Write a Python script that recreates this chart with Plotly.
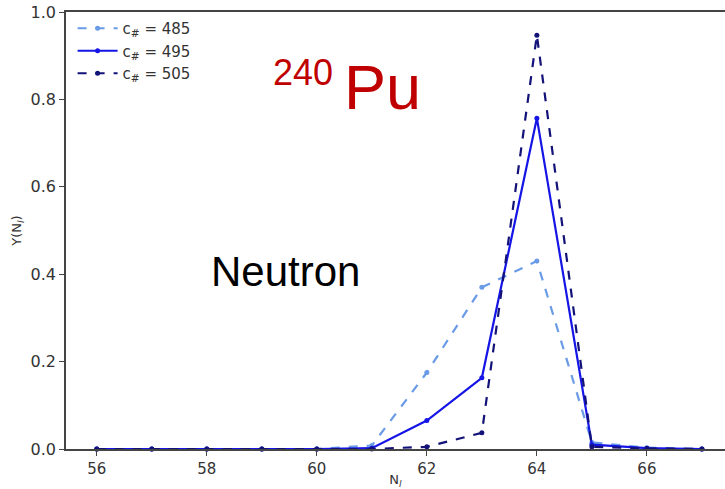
import plotly.graph_objects as go

N = [56, 57, 58, 59, 60, 61, 62, 63, 64, 65, 66, 67]
y485 = [0, 0, 0, 0, 0, 0.008, 0.175, 0.37, 0.43, 0.015, 0.003, 0.0]
y495 = [0, 0, 0, 0, 0, 0.002, 0.065, 0.163, 0.757, 0.010, 0.002, 0.0]
y505 = [0, 0, 0, 0, 0, 0.0, 0.005, 0.037, 0.947, 0.005, 0.001, 0.0]
names = ["c<sub>#</sub> = 485", "c<sub>#</sub> = 495", "c<sub>#</sub> = 505"]
colors = ["#6a9be6", "#1515e6", "#121278"]
dashes = ["dash", "solid", "dash"]

fig = go.Figure()
for ys, nm, c, d in zip([y485, y495, y505], names, colors, dashes):
    fig.add_trace(go.Scatter(
        x=N, y=ys, name=nm, mode="lines+markers",
        line=dict(color=c, width=2.2, dash=d),
        marker=dict(color=c, size=5),
        cliponaxis=False,
    ))

xtickfont = dict(family="DejaVu Sans", size=15, color="#333333")
ytickfont = dict(family="DejaVu Sans", size=16, color="#333333")
fig.update_layout(
    width=725, height=489,
    margin=dict(l=66, r=0, t=12, b=40),
    paper_bgcolor="white", plot_bgcolor="white",
    font=dict(family="DejaVu Sans", color="#333333"),
    showlegend=True,
    legend=dict(x=0.01, y=1.0, xanchor="left", yanchor="top",
                font=dict(family="DejaVu Sans", size=15, color="#333333"),
                bgcolor="rgba(255,255,255,0)", tracegroupgap=2, itemwidth=40),
    xaxis=dict(range=[55.44, 67.42], tickvals=[56, 58, 60, 62, 64, 66],
               automargin=False,
               showgrid=False, zeroline=False, showline=True, linecolor="#444444",
               linewidth=1.5, mirror=True, ticks="outside", ticklen=5,
               tickcolor="#444444", tickfont=xtickfont,
               title=dict(text="N<sub><i>l</i></sub>", font=dict(family="DejaVu Sans", size=13, color="#333333"), standoff=4)),
    yaxis=dict(range=[0, 1.0], tickvals=[0, 0.2, 0.4, 0.6, 0.8, 1.0],
               ticktext=["0.0", "0.2", "0.4", "0.6", "0.8", "1.0"],
               automargin=False,
               showgrid=False, zeroline=False, showline=True, linecolor="#444444",
               linewidth=1.5, ticks="outside", ticklen=5, tickcolor="#444444",
               tickfont=ytickfont,
               title=dict(text="Y(N<sub><i>l</i></sub>)", font=dict(family="DejaVu Sans", size=13, color="#333333"), standoff=6)),
)

fig.add_annotation(x=335, y=489 - 50, xref="paper", yref="paper", text="240",
                   showarrow=False, xanchor="right", yanchor="top",
                   font=dict(family="Liberation Sans", size=36, color="#c00000"))
fig.add_annotation(x=342, y=489 - 124, xref="paper", yref="paper", text="Pu",
                   showarrow=False, xanchor="left", yanchor="bottom",
                   font=dict(family="Liberation Sans", size=63, color="#c00000"))
fig.add_annotation(x=209, y=489 - 271, xref="paper", yref="paper", text="Neutron",
                   showarrow=False, xanchor="left", yanchor="middle",
                   font=dict(family="Liberation Sans", size=42, color="black"))

# convert pixel-based annotation coordinates to paper fractions
for a in fig.layout.annotations:
    a.x = (a.x - 66) / (725 - 66)
    a.y = (a.y - 40) / (489 - 40 - 12)

fig.write_html("out.html")
